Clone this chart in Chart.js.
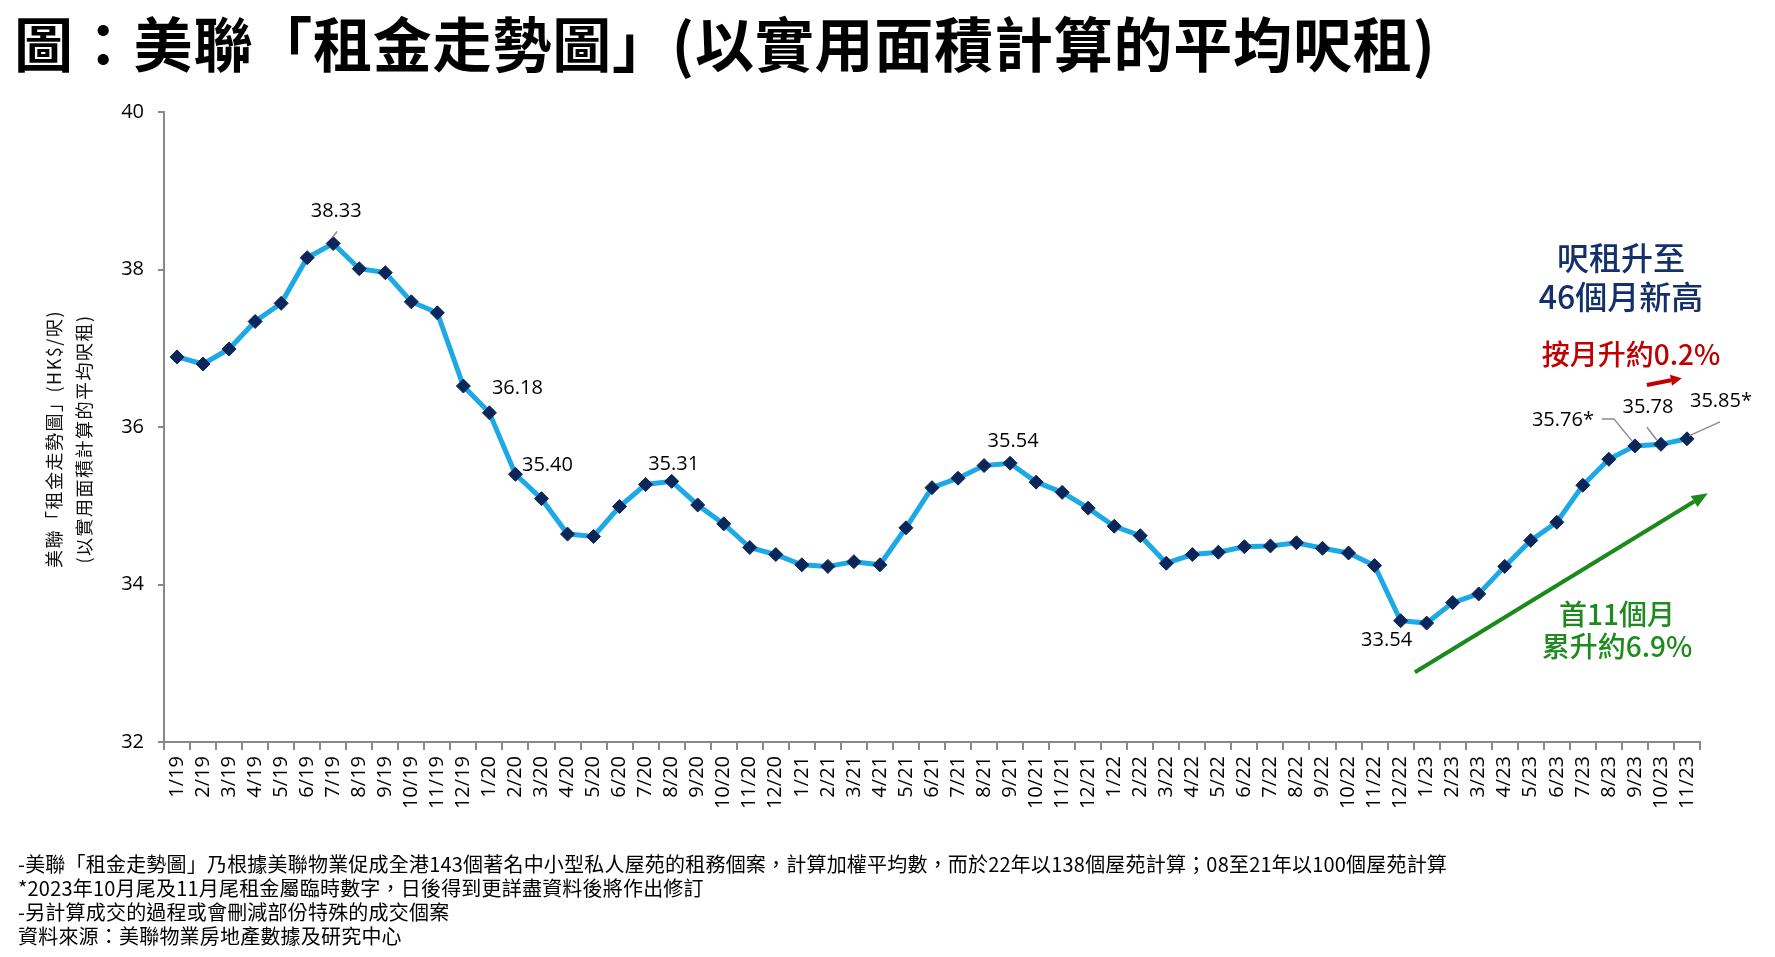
<!DOCTYPE html>
<html lang="zh-Hant">
<head>
<meta charset="utf-8">
<title>美聯「租金走勢圖」</title>
<script src="https://cdn.jsdelivr.net/npm/chart.js@4.4.1/dist/chart.umd.min.js"></script>
<style>
  html, body { margin: 0; padding: 0; background: #fff; }
  body { width: 1775px; height: 957px; position: relative; overflow: hidden;
         font-family: "Noto Sans CJK TC", "Noto Sans", sans-serif; }
  #wrap { position: absolute; left: 0; top: 0; width: 1775px; height: 957px; }
  .title { position: absolute; left: 14px; top: 12px; font-size: 59px; line-height: 59px; letter-spacing: 0.8px;
           font-weight: bold; color: #000; white-space: nowrap; }
  .ytitle { position: absolute; width: 400px; text-align: center; font-size: 18px; line-height: 30px;
            letter-spacing: 1.5px; color: #111; transform: rotate(-90deg); white-space: nowrap; }
  .note { position: absolute; width: 300px; text-align: center; white-space: nowrap; font-weight: 500; }
  .foot { position: absolute; left: 18px; top: 852px; font-size: 20px; line-height: 24px; letter-spacing: 0.2px;
          color: #000; white-space: nowrap; }
</style>
</head>
<body>
<div id="wrap"><canvas id="myChart"></canvas></div>

<div class="title">圖：美聯「租金走勢圖」(以實用面積計算的平均呎租)</div>

<div class="ytitle" style="left:-147px; top:424px;">美聯「租金走勢圖」(HK$/呎)</div>
<div class="ytitle" style="left:-117px; top:424px;">(以實用面積計算的平均呎租)</div>

<div class="note" style="left:1471px; top:237px; font-size:32px; line-height:39px; color:#14306b;">呎租升至<br>46個月新高</div>
<div class="note" style="left:1481px; top:336px; font-size:28px; line-height:34px; color:#c00000;">按月升約0.2%</div>
<div class="note" style="left:1467px; top:597px; font-size:28px; line-height:32px; color:#1f8a1f;">首11個月<br>累升約6.9%</div>

<div class="foot">
-美聯「租金走勢圖」乃根據美聯物業促成全港143個著名中小型私人屋苑的租務個案，計算加權平均數，而於22年以138個屋苑計算；08至21年以100個屋苑計算<br>
*2023年10月尾及11月尾租金屬臨時數字，日後得到更詳盡資料後將作出修訂<br>
-另計算成交的過程或會刪減部份特殊的成交個案<br>
資料來源：美聯物業房地產數據及研究中心
</div>

<script>
// 月份 (月/年)
const categories = [
  '1/19','2/19','3/19','4/19','5/19','6/19','7/19','8/19','9/19','10/19','11/19','12/19',
  '1/20','2/20','3/20','4/20','5/20','6/20','7/20','8/20','9/20','10/20','11/20','12/20',
  '1/21','2/21','3/21','4/21','5/21','6/21','7/21','8/21','9/21','10/21','11/21','12/21',
  '1/22','2/22','3/22','4/22','5/22','6/22','7/22','8/22','9/22','10/22','11/22','12/22',
  '1/23','2/23','3/23','4/23','5/23','6/23','7/23','8/23','9/23','10/23','11/23'
];

// 平均呎租 HK$
const rentValues = [
  36.89, 36.80, 36.99, 37.34, 37.57, 38.15, 38.33, 38.01, 37.96, 37.59, 37.45, 36.52,
  36.18, 35.40, 35.09, 34.64, 34.61, 34.99, 35.27, 35.31, 35.01, 34.77, 34.47, 34.38,
  34.25, 34.23, 34.29, 34.25, 34.72, 35.23, 35.35, 35.51, 35.54, 35.30, 35.17, 34.97,
  34.74, 34.62, 34.27, 34.38, 34.41, 34.48, 34.49, 34.53, 34.46, 34.40, 34.24, 33.54,
  33.51, 33.77, 33.88, 34.23, 34.56, 34.79, 35.26, 35.59, 35.76, 35.78, 35.85
];

// y軸刻度
const yTicks = [32, 34, 36, 38, 40];

// 有數字標籤的點
const labelIdx = [6, 12, 13, 19, 32, 47, 56, 57, 58];
const labelText = ['38.33', '36.18', '35.40', '35.31', '35.54', '33.54', '35.76*', '35.78', '35.85*'];

//Plugin for the value labels, leader lines and the two arrows
const annotatePlugin = {
  id: 'annotate',
  afterDatasetsDraw(chart, args, opts) {
    const ctx = chart.ctx;
    const pts = chart.getDatasetMeta(0).data;
    const xs = chart.scales.x, ys = chart.scales.y;
    ctx.save();

    // leader lines
    ctx.strokeStyle = '#8c8c8c';
    ctx.lineWidth = 1.5;
    labelIdx.forEach((idx, k) => {
      const lead = opts.leaders[k];
      if (!lead) return;
      const p = pts[idx];
      ctx.beginPath();
      lead.forEach((d, j) => {
        const x = p.x + d[0], y = p.y + d[1];
        if (j === 0) ctx.moveTo(x, y); else ctx.lineTo(x, y);
      });
      ctx.stroke();
    });

    // value labels
    ctx.fillStyle = '#000';
    ctx.font = '20px "Open Sans", "Noto Sans", sans-serif';
    ctx.textAlign = 'center';
    ctx.textBaseline = 'middle';
    labelIdx.forEach((idx, k) => {
      const p = pts[idx];
      const off = opts.offsets[k];
      ctx.fillText(labelText[k], p.x + off[0], p.y + off[1]);
    });

    // arrows (in data coordinates)
    opts.arrows.forEach(a => {
      const x1 = xs.getPixelForValue(a.from[0]), y1 = ys.getPixelForValue(a.from[1]);
      const x2 = xs.getPixelForValue(a.to[0]), y2 = ys.getPixelForValue(a.to[1]);
      const ang = Math.atan2(y2 - y1, x2 - x1);
      const bx = x2 - a.head * Math.cos(ang), by = y2 - a.head * Math.sin(ang);
      ctx.strokeStyle = a.color;
      ctx.fillStyle = a.color;
      ctx.lineWidth = a.width;
      ctx.beginPath();
      ctx.moveTo(x1, y1);
      ctx.lineTo(bx, by);
      ctx.stroke();
      ctx.beginPath();
      ctx.moveTo(x2, y2);
      ctx.lineTo(bx + a.headW / 2 * Math.sin(ang), by - a.headW / 2 * Math.cos(ang));
      ctx.lineTo(bx - a.headW / 2 * Math.sin(ang), by + a.headW / 2 * Math.cos(ang));
      ctx.closePath();
      ctx.fill();
    });
    ctx.restore();
  }
};

const axisGray = '#898989';

const config = {
  type: 'line',
  data: {
    labels: categories,
    datasets: [{
      label: '平均呎租',
      data: rentValues,
      borderColor: '#1ca9e6',
      borderWidth: 5,
      tension: 0,
      pointStyle: 'rectRot',
      pointRadius: 7,
      pointBorderWidth: 1,
      pointBackgroundColor: '#0c2659',
      pointBorderColor: '#0c2659',
      clip: false
    }]
  },
  options: {
    responsive: true,
    maintainAspectRatio: false,
    devicePixelRatio: 1,
    animation: false,
    layout: { padding: { top: 112, right: 75, left: 0, bottom: 0 } },
    plugins: {
      legend: { display: false },
      tooltip: { enabled: false },
      annotate: {
        offsets: [[3, -32], [28, -25], [32, -9], [2, -17], [3, -22], [-14, 20], [-72, -26], [-13, -37], [34, -38]],
        leaders: [
          [[-1, -6], [4, -12]], null, null, null, null, null,
          [[-33, -27], [-21, -27], [-3, -5]],
          [[-14, -17], [-4, -4]],
          [[33, -17], [2, -3]]
        ],
        arrows: [
          { from: [47.55, 32.885], to: [58.8, 35.16], color: '#1a8a1a', width: 4, head: 16, headW: 13 },
          { from: [56.46, 36.534], to: [57.8, 36.62], color: '#c00000', width: 4, head: 11, headW: 11 }
        ]
      }
    },
    scales: {
      x: {
        offset: true,
        grid: { offset: true, drawOnChartArea: false, drawTicks: true, tickLength: 8, color: axisGray, lineWidth: 2 },
        border: { color: axisGray, width: 2 },
        ticks: {
          autoSkip: false, minRotation: 90, maxRotation: 90, padding: 6, color: '#000',
          font: { family: '"Open Sans", "Noto Sans", sans-serif', size: 20 }
        },
        afterFit(scale) {
          scale.height = 215;
          scale.paddingLeft = 0;
          scale.paddingRight = 0;
        }
      },
      y: {
        min: yTicks[0],
        max: yTicks[yTicks.length - 1],
        afterBuildTicks(scale) { scale.ticks = yTicks.map(v => ({ value: v })); },
        grid: { drawOnChartArea: false, drawTicks: true, tickLength: 6, color: axisGray, lineWidth: 2 },
        border: { color: axisGray, width: 2 },
        ticks: {
          padding: 14, color: '#000',
          font: { family: '"Open Sans", "Noto Sans", sans-serif', size: 20 }
        },
        afterFit(scale) {
          scale.width = 164;
          scale.paddingTop = 0;
          scale.paddingBottom = 0;
        }
      }
    }
  },
  plugins: [annotatePlugin]
};

const myChart = new Chart(document.getElementById('myChart'), config);
</script>
</body>
</html>
